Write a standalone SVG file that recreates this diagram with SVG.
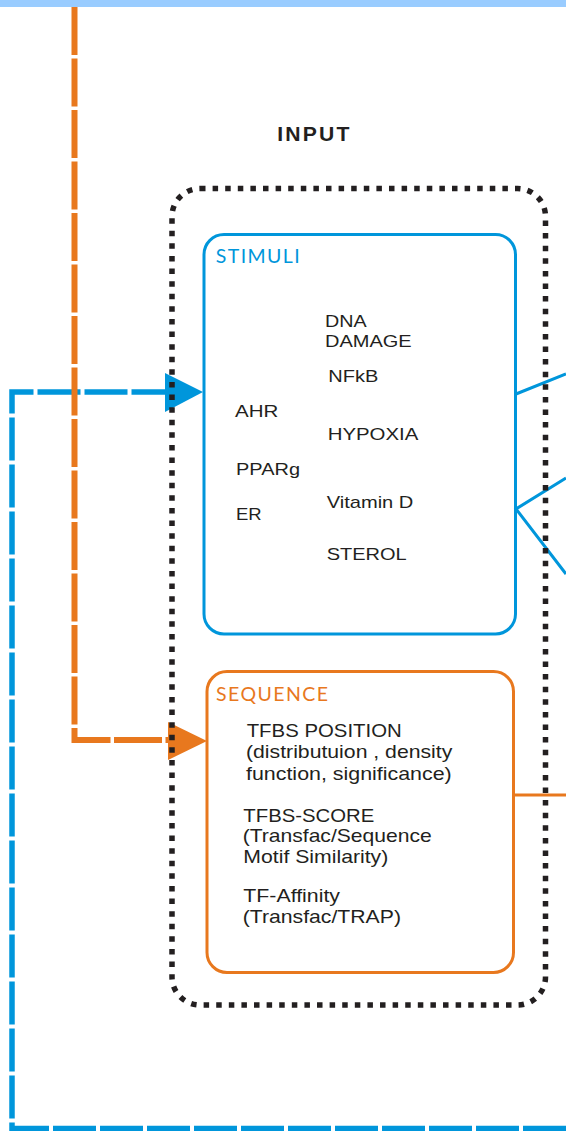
<svg xmlns="http://www.w3.org/2000/svg" width="566" height="1131" viewBox="0 0 566 1131">
<style>
.t{font-family:"Liberation Sans",Arial,sans-serif;fill:#231f20}
.s{font-size:17px}
.q{font-size:18.5px}
.h{font-family:Lato,"Open Sans","Noto Sans",sans-serif;font-size:19.5px}
.blue{stroke:#0096db;fill:none}
.orange{stroke:#e8781e;fill:none}
</style>
<rect x="0" y="0" width="566" height="7" fill="#99ccff"/>
<g id="connectors">
<path class="blue" d="M566 1128.5 H12 V392 H170" stroke-width="5.5" stroke-dasharray="43 4"/>
<polygon points="165,373 203,392 165,412" fill="#0096db"/>
<path class="orange" d="M74.5 7 V740 H170" stroke-width="6" stroke-dasharray="48 3.5"/>
<polygon points="168,722 207,741 168,760" fill="#e8781e"/>
<path class="blue" d="M516 394 L566 374 M566 478 L516 509 L566 574" stroke-width="3"/>
<path class="orange" d="M513.5 795 H566" stroke-width="3"/>
</g>
<g id="input">
<text class="t" x="277.3" y="140.5" font-size="19.5" font-weight="bold" letter-spacing="2" textLength="74.3" lengthAdjust="spacingAndGlyphs">INPUT</text>
<rect x="172" y="188.5" width="373.5" height="816.5" rx="28" fill="none" stroke="#231f20" stroke-width="5.5" stroke-dasharray="5.5 7.1"/>
</g>
<g id="stimuli">
<rect x="204" y="234.5" width="311.5" height="399.5" rx="20" class="blue" stroke-width="3"/>
<text class="h" x="215.7" y="262.7" fill="#0096db" textLength="84" lengthAdjust="spacing">STIMULI</text>
<text class="t s" x="325" y="326.7" textLength="41.7" lengthAdjust="spacingAndGlyphs">DNA</text>
<text class="t s" x="325" y="346.7" textLength="86.7" lengthAdjust="spacingAndGlyphs">DAMAGE</text>
<text class="t s" x="328.3" y="381.7" textLength="50" lengthAdjust="spacingAndGlyphs">NFkB</text>
<text class="t s" x="235" y="416.7" textLength="43.3" lengthAdjust="spacingAndGlyphs">AHR</text>
<text class="t s" x="327.7" y="440" textLength="90.7" lengthAdjust="spacingAndGlyphs">HYPOXIA</text>
<text class="t s" x="236" y="475" textLength="64" lengthAdjust="spacingAndGlyphs">PPARg</text>
<text class="t s" x="326.7" y="508.3" textLength="86.7" lengthAdjust="spacingAndGlyphs">Vitamin D</text>
<text class="t s" x="236" y="520" textLength="25.7" lengthAdjust="spacingAndGlyphs">ER</text>
<text class="t s" x="326.7" y="560" textLength="80" lengthAdjust="spacingAndGlyphs">STEROL</text>
</g>
<g id="sequence">
<rect x="207" y="671.5" width="306.5" height="301" rx="20" class="orange" stroke-width="3"/>
<text class="h" x="216" y="700.7" fill="#e8781e" textLength="112" lengthAdjust="spacing">SEQUENCE</text>
<text class="t q" x="246.7" y="736.7" textLength="155" lengthAdjust="spacingAndGlyphs">TFBS POSITION</text>
<text class="t q" x="246" y="758.3" textLength="206.3" lengthAdjust="spacingAndGlyphs">(distributuion , density</text>
<text class="t q" x="246" y="780" textLength="205.7" lengthAdjust="spacingAndGlyphs">function, significance)</text>
<text class="t q" x="243.3" y="821.7" textLength="131" lengthAdjust="spacingAndGlyphs">TFBS-SCORE</text>
<text class="t q" x="242.7" y="841.7" textLength="189" lengthAdjust="spacingAndGlyphs">(Transfac/Sequence</text>
<text class="t q" x="243.3" y="862.7" textLength="145" lengthAdjust="spacingAndGlyphs">Motif Similarity)</text>
<text class="t q" x="243.3" y="901.7" textLength="96.7" lengthAdjust="spacingAndGlyphs">TF-Affinity</text>
<text class="t q" x="242.7" y="923.3" textLength="158.3" lengthAdjust="spacingAndGlyphs">(Transfac/TRAP)</text>
</g>
</svg>
